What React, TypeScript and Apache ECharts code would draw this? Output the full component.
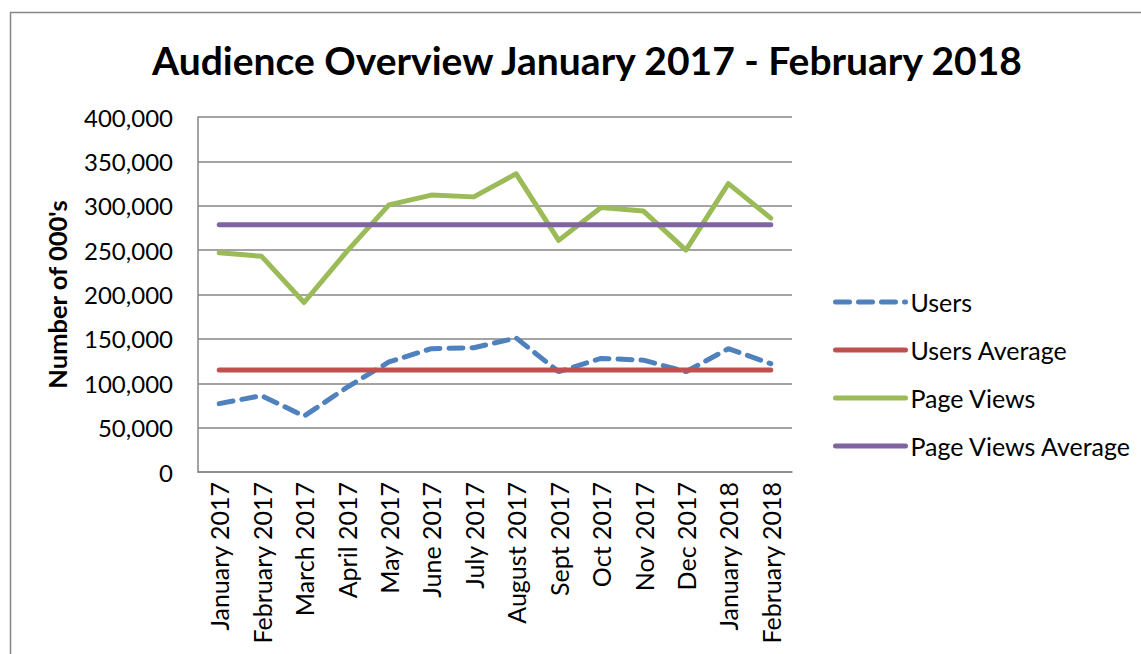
import React, { useEffect, useRef } from "react";
import * as echarts from "echarts";

const categories = [
  "January 2017", "February 2017", "March 2017", "April 2017", "May 2017", "June 2017",
  "July 2017", "August 2017", "Sept 2017", "Oct 2017", "Nov 2017", "Dec 2017",
  "January 2018", "February 2018",
];
const users = [77000, 86000, 63000, 95000, 124000, 139000, 140000, 151000, 113000, 128000, 126000, 113000, 139000, 122000];
const pageViews = [247000, 243000, 191000, 248000, 301000, 312000, 310000, 336000, 261000, 298000, 294000, 250000, 325000, 286000];
const usersAverage = 115000;
const pageViewsAverage = 278500;
const yTicks = { min: 0, max: 400000, interval: 50000 };

const FONT = "Lato, 'Noto Sans', sans-serif";

export default function App() {
  const ref = useRef<HTMLDivElement>(null);
  useEffect(() => {
    if (!ref.current) return;
    const chart = echarts.init(ref.current, null, { renderer: "svg" });
    chart.setOption({
      animation: false,
      backgroundColor: "#ffffff",
      textStyle: { fontFamily: FONT, color: "#000" },
      graphic: [
        {
          type: "rect",
          shape: { x: 10.5, y: 12.5, width: 1300, height: 1000 },
          style: { fill: "none", stroke: "#868686", lineWidth: 1.5 },
          silent: true,
        },
      ],
      title: {
        text: "Audience Overview January 2017 - February 2018",
        left: 582,
        textAlign: "center",
        top: 35,
        textStyle: { fontFamily: FONT, fontWeight: "bold", fontSize: 39, color: "#000" },
      },
      legend: {
        orient: "vertical",
        left: 828,
        top: 283,
        itemWidth: 70,
        itemHeight: 14,
        itemGap: 20,
        itemStyle: { opacity: 0 },
        lineStyle: { width: 5, cap: "round" },
        textStyle: { fontFamily: FONT, fontSize: 25, color: "#000", lineHeight: 28 },
        data: ["Users", "Users Average", "Page Views", "Page Views Average"],
      },
      grid: { left: 198, right: 349, top: 117, bottom: 182, containLabel: false },
      xAxis: {
        type: "category",
        data: categories,
        boundaryGap: true,
        axisLine: { lineStyle: { color: "#868686", width: 1.5 } },
        axisTick: { show: false },
        axisLabel: { rotate: 90, margin: 10, fontSize: 25, color: "#000", fontFamily: FONT, interval: 0 },
      },
      yAxis: {
        type: "value",
        min: yTicks.min,
        max: yTicks.max,
        interval: yTicks.interval,
        name: "Number of 000's",
        nameLocation: "middle",
        nameGap: 128,
        nameTextStyle: { fontFamily: FONT, fontWeight: "bold", fontSize: 25.5, color: "#000" },
        axisLine: { show: true, lineStyle: { color: "#868686", width: 1.5 } },
        axisTick: { show: false },
        splitLine: { lineStyle: { color: "#868686", width: 1.5 } },
        axisLabel: {
          margin: 25,
          fontSize: 24,
          color: "#000",
          fontFamily: FONT,
          formatter: (v: number) => v.toLocaleString("en-US"),
        },
      },
      series: [
        {
          name: "Users",
          type: "line",
          data: users,
          symbol: "none",
          color: "#4F81BD",
          lineStyle: { color: "#4F81BD", width: 5, type: [14, 9], cap: "round" },
        },
        {
          name: "Users Average",
          type: "line",
          data: categories.map(() => usersAverage),
          symbol: "none",
          color: "#C0504D",
          lineStyle: { color: "#C0504D", width: 5, cap: "round" },
        },
        {
          name: "Page Views",
          type: "line",
          data: pageViews,
          symbol: "none",
          color: "#9BBB59",
          lineStyle: { color: "#9BBB59", width: 5, cap: "round", join: "round" },
        },
        {
          name: "Page Views Average",
          type: "line",
          data: categories.map(() => pageViewsAverage),
          symbol: "none",
          color: "#8064A2",
          lineStyle: { color: "#8064A2", width: 5, cap: "round" },
        },
      ],
    });
    return () => chart.dispose();
  }, []);
  return (
    <div
      ref={ref}
      style={{ position: "fixed", left: 0, top: 0, width: 1141, height: 654 }}
    />
  );
}
